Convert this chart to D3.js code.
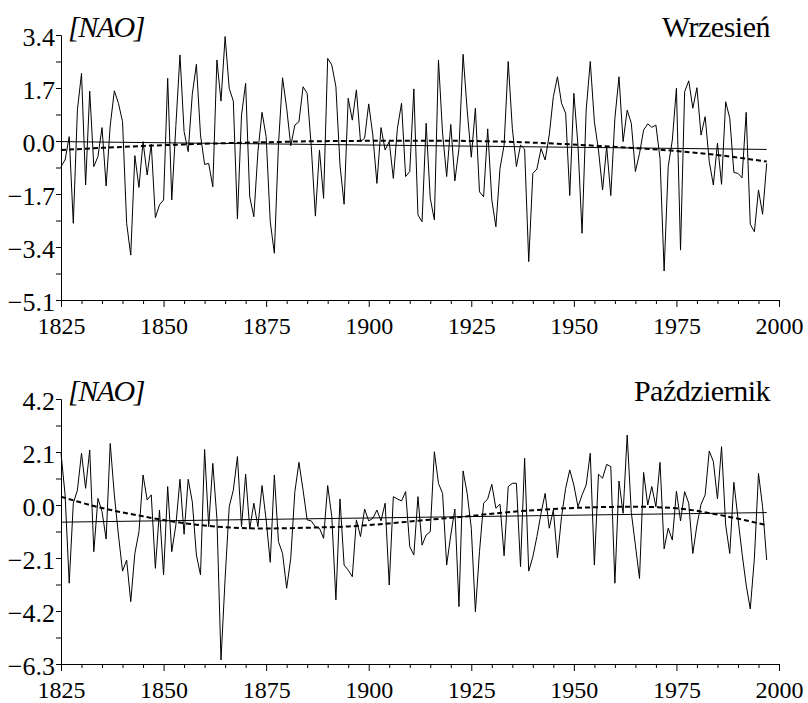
<!DOCTYPE html>
<html>
<head>
<meta charset="utf-8">
<script src="https://cdn.jsdelivr.net/npm/d3@7"></script>
<style>
  body { margin: 0; background: #fff; }
  svg text { font-family: "Liberation Serif", "Times New Roman", serif; fill: #000; }
</style>
</head>
<body>
<div id="chart"></div>
<script>
// yearly NAO index, 1825..1997
const firstYear = 1825;
const lastYear = 1997;

const septValues = [
  -0.82, -0.61, 0.14, -2.64, 1.0,
  2.17, -1.41, 1.6, -0.82, -0.5, 0.43, -1.44, 0.5, 1.61, 1.21,
  0.62, -2.64, -3.66, -0.47, -1.49, -0.02, -1.09, -0.1, -2.46, -2.05,
  -1.89, 2.01, -1.89, 0.5, 2.76, 0.3, -0.34, 1.5, 2.46, 0.19,
  -0.75, -0.72, -1.47, 2.6, 1.28, 3.35, 1.69, 1.28, -2.5, 0.83,
  1.85, -1.79, -2.43, -0.34, 0.92, 0.14, -2.59, -3.6, -0.13, 2.03,
  1.05, -0.15, 0.51, 0.62, 1.74, 1.53, -0.18, -2.41, -0.29, -1.84,
  2.65, 2.44, 1.74, -0.77, -2.03, 1.37, 0.67, 1.64, -0.02, 0.09,
  1.19, 0.19, -1.36, 0.43, -0.29, -0.02, -1.2, 0.41, 1.21, -1.14,
  -0.98, 1.67, -2.37, -2.59, 0.57, -1.84, -2.53, 2.6, 0.25, -1.14,
  0.53, -1.28, -0.24, 2.78, 0.99, -0.52, 1.05, -1.63, -1.79, 0.39,
  -1.89, -2.75, -0.88, -0.13, 2.55, 0.41, -0.82, -0.13, -0.26, -3.87,
  -1.04, -0.9, -0.24, -0.61, 0.19, 1.42, 2.06, 1.21, 0.89, -1.75,
  1.53, -0.13, -2.96, 0.99, 2.55, 0.62, -0.29, -1.57, -0.18, -1.75,
  0.73, 2.06, -0.02, 0.99, 0.57, -0.98, -0.4, 0.35, 0.55, 0.44,
  0.51, -0.56, -4.17, -0.82, 0.03, 1.69, -3.5, 1.58, 1.93, 1.05,
  1.71, 0.19, 0.78, -0.66, -1.41, -0.07, -1.39, 1.26, 0.73, -1.01,
  -1.04, -1.18, 0.92, -2.67, -2.91, -1.57, -2.35, -0.72
];

const octValues = [
  2.05, 0.4, -3.1, 0.07, 0.59,
  2.05, 0.66, 2.18, -1.85, 0.26, -0.26, -1.35, 2.44, 0.4, -1.19,
  -2.62, -2.18, -3.83, -1.92, -1.06, 1.19, 0.2, 0.4, -2.51, -0.2,
  -2.77, 0.73, -1.85, -0.79, 1.02, -1.16, 1.02, 0.13, -1.98, -2.77,
  2.2, -0.86, 1.65, -0.53, -6.14, -2.91, -0.07, 0.59, 1.92, -0.86,
  1.22, -0.95, 0.07, -0.86, 0.77, -0.59, -2.27, 1.19, -1.45, -1.92,
  -3.3, -2.11, 0.53, 1.69, 0.59, -0.59, -0.63, -0.86, -0.92, -1.32,
  0.77, -0.46, -3.76, 0.24, -2.38, -2.58, -2.84, -0.59, -1.25, -0.16,
  -0.63, -0.53, -0.2, -0.63, 0.07, -3.17, 0.33, 0.24, 0.16, 0.53,
  -1.65, -1.98, 0.33, -1.59, -1.19, -1.06, 2.11, 0.86, 0.46, -2.38,
  -1.19, -0.16, -4.03, 1.35, 0.46, -0.92, -4.23, -1.85, 0.07, 0.24,
  0.82, -0.13, 0.03, -2.01, 0.73, 0.86, 0.86, -2.44, 1.85, -2.62,
  -2.05, -1.25, -0.33, 0.46, -0.92, -0.2, -2.09, -0.46, 0.66, 1.39,
  0.79, -0.07, 0.4, 0.79, 2.05, -2.38, 1.22, 1.06, 1.61, 1.52,
  -3.1, 0.95, -0.33, 2.77, -0.3, -1.59, -2.91, 1.29, 0.0, 0.73,
  -0.07, 1.69, -1.74, -0.92, -1.39, 0.55, -0.63, 0.53, 0.07, -1.92,
  -0.79, 0.03, 0.4, 2.14, 1.72, 0.24, 2.31, -0.79, -1.92, 0.9,
  -0.53, -1.92, -3.17, -4.12, -2.11, 1.25, -0.07, -2.18
];

// linear trend, value at first and last year
const septTrend = [-0.02, -0.27];
const octTrend = [-0.68, -0.3];

// smoothed curve (dashed), read every ten years
const smoothYears = [1825, 1835, 1845, 1855, 1865, 1875, 1885, 1895, 1905, 1915, 1925, 1935, 1945, 1955, 1965, 1975, 1985, 1997];
const septSmooth = [-0.29, -0.22, -0.16, -0.11, -0.07, -0.04, -0.01, 0.0, 0.01, 0.01, 0.0, -0.03, -0.08, -0.15, -0.23, -0.32, -0.45, -0.66];
const octSmooth = [0.33, -0.12, -0.45, -0.72, -0.88, -0.93, -0.9, -0.85, -0.73, -0.58, -0.43, -0.27, -0.16, -0.09, -0.07, -0.13, -0.38, -0.8];

const septTicks = [3.4, 1.7, 0.0, -1.7, -3.4, -5.1];
const octTicks = [4.2, 2.1, 0.0, -2.1, -4.2, -6.3];
const yearTicks = [1825, 1850, 1875, 1900, 1925, 1950, 1975, 2000];

const serif = "'Liberation Serif', 'Times New Roman', serif";
const w = 808, h = 703;
const years = d3.range(firstYear, lastYear + 1);

const svg = d3.select("#chart").append("svg")
  .attr("width", w)
  .attr("height", h);

const xScale = d3.scaleLinear().domain([1825, 2000]).range([61, 779]);

const drawPanel = (p) => {
  const yScale = d3.scaleLinear()
    .domain([p.ticks[p.ticks.length - 1], p.ticks[0]])
    .range([p.bottom, p.top]);
  const step = (p.ticks[0] - p.ticks[1]) / 2;
  const allTicks = d3.range(0, 11).map(i => p.ticks[0] - i * step);
  const g = svg.append("g");

  // x axis
  const xAxis = d3.axisBottom(xScale)
    .tickValues(d3.range(1825, 2001, 5))
    .tickSizeOuter(0)
    .tickSize(4)
    .tickFormat(d => yearTicks.includes(d) ? d : "");
  g.append("g")
    .attr("transform", `translate(0,${p.bottom})`)
    .call(xAxis)
    .attr("font-family", serif)
    .call(a => {
      a.selectAll("line").attr("stroke-width", 1)
        .filter(d => yearTicks.includes(d)).attr("y2", 7);
      a.selectAll("text")
        .attr("y", 17)
        .style("font-family", serif)
        .style("font-size", "24px");
    });

  // y axis
  const yAxis = d3.axisLeft(yScale)
    .tickValues(allTicks)
    .tickSizeOuter(0)
    .tickSize(5)
    .tickPadding(1)
    .tickFormat((d, i) => i % 2 === 0 ? d3.format(".1f")(d) : "");
  g.append("g")
    .attr("transform", `translate(${xScale(1825)},0)`)
    .call(yAxis)
    .attr("font-family", serif)
    .call(a => {
      a.selectAll("text")
        .attr("dy", "0.42em")
        .style("font-family", serif)
        .style("font-size", "26px");
    });

  // yearly values
  const line = d3.line()
    .x((d, i) => xScale(years[i]))
    .y(d => yScale(d));
  g.append("path")
    .datum(p.values)
    .attr("fill", "none")
    .attr("stroke", "#000")
    .attr("stroke-width", 1)
    .attr("d", line);

  // trend
  g.append("line")
    .attr("x1", xScale(firstYear))
    .attr("x2", xScale(lastYear))
    .attr("y1", yScale(p.trend[0]))
    .attr("y2", yScale(p.trend[1]))
    .attr("stroke", "#000")
    .attr("stroke-width", 1);

  // smoothed, dashed
  const smooth = d3.line()
    .curve(d3.curveMonotoneX)
    .x((d, i) => xScale(smoothYears[i]))
    .y(d => yScale(d));
  g.append("path")
    .datum(p.smooth)
    .attr("fill", "none")
    .attr("stroke", "#000")
    .attr("stroke-width", 2)
    .attr("stroke-dasharray", "5,3")
    .attr("d", smooth);

  g.append("text")
    .attr("x", 68)
    .attr("y", p.top + 2)
    .style("font-family", serif)
    .style("font-size", "30px")
    .style("font-style", "italic")
    .style("letter-spacing", "-1.5px")
    .text("[NAO]");

  g.append("text")
    .attr("x", 770)
    .attr("y", p.top + 2)
    .attr("text-anchor", "end")
    .style("font-family", serif)
    .style("font-size", "30px")
    .style("letter-spacing", "-0.5px")
    .text(p.title);
};

drawPanel({title: "Wrzesień", values: septValues, trend: septTrend, smooth: septSmooth, ticks: septTicks, top: 35, bottom: 300});
drawPanel({title: "Październik", values: octValues, trend: octTrend, smooth: octSmooth, ticks: octTicks, top: 399, bottom: 664});
</script>
</body>
</html>
